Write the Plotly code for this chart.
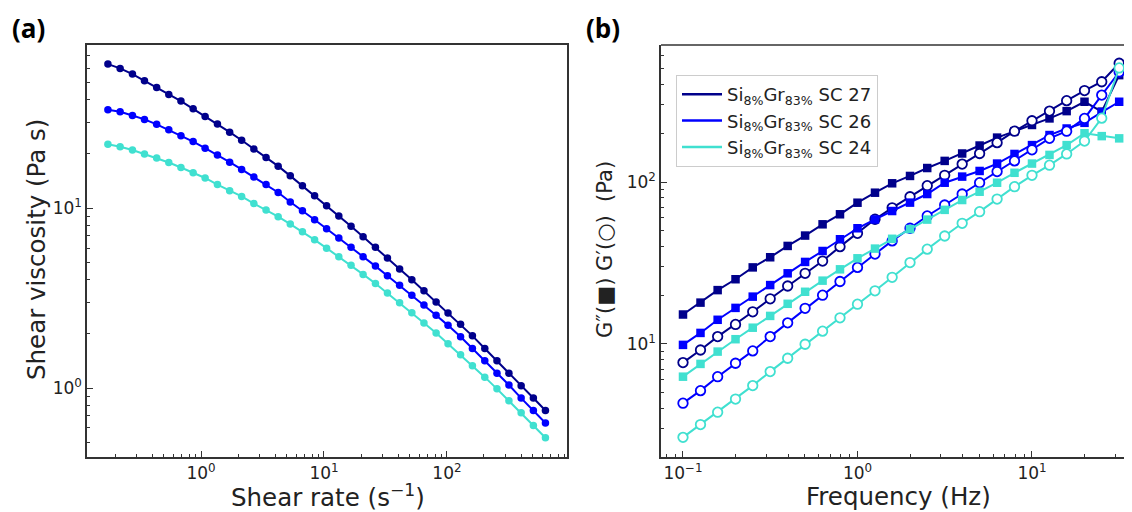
import plotly.graph_objects as go

# ---------------- data: panel (a) ----------------
shear_rate = [0.175, 0.220, 0.277, 0.347, 0.436, 0.547, 0.687, 0.863, 1.08, 1.36,
              1.71, 2.14, 2.69, 3.38, 4.24, 5.32, 6.68, 8.39, 10.5, 13.2,
              16.6, 20.8, 26.2, 32.8, 41.2, 51.8, 65.0, 81.6, 102, 129,
              161, 203, 255, 319, 401, 504, 632]
visc_sc27 = [63.1, 59.7, 55.5, 50.9, 46.8, 42.8, 39.3, 35.6, 32.3, 29.3,
             26.4, 23.8, 21.3, 19.1, 17.1, 15.1, 13.3, 11.7, 10.3, 9.04,
             7.92, 6.93, 6.05, 5.28, 4.59, 4.00, 3.47, 3.01, 2.61, 2.26,
             1.95, 1.66, 1.42, 1.21, 1.03, 0.88, 0.75]
visc_sc26 = [35.2, 34.3, 32.7, 31.1, 29.2, 27.2, 25.2, 23.4, 21.5, 19.7,
             18.0, 16.4, 14.9, 13.5, 12.2, 10.8, 9.67, 8.62, 7.67, 6.82,
             6.06, 5.37, 4.76, 4.21, 3.72, 3.28, 2.89, 2.54, 2.23, 1.93,
             1.66, 1.42, 1.21, 1.04, 0.88, 0.75, 0.64]
visc_sc24 = [22.6, 21.9, 21.0, 19.95, 18.95, 17.9, 16.8, 15.7, 14.7, 13.5,
             12.5, 11.6, 10.6, 9.75, 8.95, 8.15, 7.38, 6.66, 5.99, 5.37,
             4.81, 4.28, 3.81, 3.37, 2.98, 2.62, 2.30, 2.02, 1.76, 1.53,
             1.33, 1.15, 0.99, 0.85, 0.73, 0.62, 0.53]

# ---------------- data: panel (b) ----------------
frequency = [0.1, 0.126, 0.158, 0.2, 0.251, 0.316, 0.398, 0.501, 0.631, 0.794,
             1.0, 1.26, 1.58, 2.0, 2.51, 3.16, 3.98, 5.01, 6.31, 7.94,
             10.0, 12.6, 15.8, 20.0, 25.1, 31.6]
gpp_sc27 = [15.2, 18.0, 21.5, 25.1, 29.7, 34.3, 40.3, 46.7, 54.8, 63.2,
            74.5, 85.9, 98.2, 109, 122, 135, 150, 168, 188, 206,
            225, 247, 274, 313, 272, 457]
gp_sc27 = [7.67, 9.18, 11.1, 13.2, 15.8, 19.0, 22.8, 27.3, 32.5, 39.9,
           48.2, 58.9, 69.3, 81.1, 94.9, 110, 129, 150, 175, 206,
           239, 274, 318, 367, 416, 541]
gpp_sc26 = [9.87, 11.7, 14.1, 16.7, 19.6, 23.1, 27.3, 32.1, 37.5, 44.3,
            51.8, 58.7, 66.2, 74.6, 84.3, 99.0, 108, 117, 130, 149,
            169, 195, 214, 232, 270, 313]
gp_sc26 = [4.31, 5.15, 6.28, 7.60, 9.06, 11.1, 13.5, 16.6, 20.0, 24.3,
           29.7, 35.9, 43.3, 51.8, 61.7, 72.1, 84.3, 99, 116, 135,
           158, 186, 206, 247, 344, 478]
gpp_sc24 = [6.28, 7.53, 8.97, 10.7, 12.6, 14.9, 17.7, 21.0, 24.6, 28.9,
            33.8, 38.8, 44.6, 51.2, 58.6, 67.3, 77.4, 87.1, 99.0, 114,
            130, 147, 169, 200, 192, 186]
gp_sc24 = [2.65, 3.18, 3.79, 4.57, 5.53, 6.75, 8.16, 9.96, 12.0, 14.5,
           17.6, 21.3, 25.8, 31.8, 38.5, 46.4, 55.6, 65.6, 78.5, 93.6,
           110, 127, 149, 179, 248, 506]

series_names = ["Si<sub>8%</sub>Gr<sub>83%</sub> SC 27",
                "Si<sub>8%</sub>Gr<sub>83%</sub> SC 26",
                "Si<sub>8%</sub>Gr<sub>83%</sub> SC 24"]
colors = ["#00008B", "#0000FF", "#40E0D0"]

W, H = 1132, 512
OFF = 8  # default page body margin in the written html
def px_x(p): return (p - OFF) / W
def px_y(p): return 1 - (p - OFF) / H

fig = go.Figure()

# panel (a)
for vals, c in zip([visc_sc27, visc_sc26, visc_sc24], colors):
    fig.add_trace(go.Scatter(x=shear_rate, y=vals, mode="lines+markers",
                             line=dict(color=c, width=2),
                             marker=dict(color=c, size=7.5, symbol="circle"),
                             showlegend=False, xaxis="x", yaxis="y"))

# panel (b)
for gpp, gp, c in zip([gpp_sc27, gpp_sc26, gpp_sc24], [gp_sc27, gp_sc26, gp_sc24], colors):
    fig.add_trace(go.Scatter(x=frequency, y=gpp, mode="lines+markers",
                             line=dict(color=c, width=2),
                             marker=dict(color=c, size=8.5, symbol="square"),
                             showlegend=False, xaxis="x2", yaxis="y2"))
    fig.add_trace(go.Scatter(x=frequency, y=gp, mode="lines+markers",
                             line=dict(color=c, width=2),
                             marker=dict(color="white", size=9.5, symbol="circle",
                                         line=dict(color=c, width=1.8)),
                             showlegend=False, xaxis="x2", yaxis="y2"))

# legend entries (lines only)
for name, c in zip(series_names, colors):
    fig.add_trace(go.Scatter(x=[None], y=[None], mode="lines", name=name,
                             line=dict(color=c, width=2.5), showlegend=True,
                             xaxis="x2", yaxis="y2"))

axcol = "#333333"
tickfont = dict(family="DejaVu Sans", size=17, color="#222222")

def minor_vals(lo, hi):
    out = []
    for d in range(lo, hi + 1):
        for m in range(2, 10):
            out.append(m * 10 ** d)
    return out

common = dict(type="log", showgrid=False, zeroline=False, showline=True,
              linecolor=axcol, linewidth=1.5, ticks="inside", ticklen=6,
              tickwidth=1.2, tickcolor=axcol, tickfont=tickfont)

fig.update_layout(
    width=W, height=H,
    margin=dict(l=0, r=0, t=0, b=0),
    paper_bgcolor="white", plot_bgcolor="white",
    xaxis=dict(domain=[px_x(87), px_x(567)], range=[-0.927, 2.976], anchor="y",
               mirror=True,
               tickmode="array", tickvals=[1, 10, 100],
               ticktext=["10<sup>0</sup>", "10<sup>1</sup>", "10<sup>2</sup>"],
               minor=dict(tickmode="array", tickvals=minor_vals(-1, 2), ticks="inside",
                          ticklen=3.5, tickwidth=1, tickcolor=axcol),
               **common),
    yaxis=dict(domain=[px_y(457), px_y(45)], range=[-0.383, 1.906], anchor="x",
               mirror=True,
               tickmode="array", tickvals=[1, 10],
               ticktext=["10<sup>0</sup>", "10<sup>1</sup>"],
               minor=dict(tickmode="array", tickvals=minor_vals(-1, 1), ticks="inside",
                          ticklen=3.5, tickwidth=1, tickcolor=axcol),
               **common),
    xaxis2=dict(domain=[px_x(661), 1.0], range=[-1.126, 1.619], anchor="y2",
                tickmode="array", tickvals=[0.1, 1, 10],
                ticktext=["10<sup>\u22121</sup>", "10<sup>0</sup>", "10<sup>1</sup>"],
                minor=dict(tickmode="array", tickvals=minor_vals(-2, 1), ticks="inside",
                           ticklen=3.5, tickwidth=1, tickcolor=axcol),
                **common),
    yaxis2=dict(domain=[px_y(457), px_y(45)], range=[0.302, 2.846], anchor="x2",
                tickmode="array", tickvals=[10, 100],
                ticktext=["10<sup>1</sup>", "10<sup>2</sup>"],
                minor=dict(tickmode="array", tickvals=minor_vals(0, 2), ticks="inside",
                           ticklen=3.5, tickwidth=1, tickcolor=axcol),
                **common),
    legend=dict(x=px_x(676), y=px_y(75), xanchor="left", yanchor="top",
                bgcolor="white", bordercolor="#cccccc", borderwidth=1,
                font=dict(family="DejaVu Sans", size=18, color="#222222"),
                itemwidth=40, tracegroupgap=0),
    shapes=[dict(type="line", xref="x2 domain", yref="y2 domain", x0=0, x1=1, y0=1, y1=1,
                 line=dict(color=axcol, width=1.5))],
)

title_font = dict(family="DejaVu Sans", size=24.5, color="#222222")
label_font = dict(family="Open Sans", size=26, color="black")
ann = [
    dict(text="<b>(a)</b>", x=px_x(10), y=1.0, xanchor="left", yanchor="top",
         font=label_font),
    dict(text="<b>(b)</b>", x=px_x(584), y=1.0, xanchor="left", yanchor="top",
         font=label_font),
    dict(text="Shear viscosity (Pa s)", x=px_x(36), y=px_y(250), textangle=-90,
         xanchor="center", yanchor="middle", font=title_font),
    dict(text="Shear rate (s<sup>\u22121</sup>)", x=px_x(328), y=px_y(496),
         xanchor="center", yanchor="middle", font=title_font),
    dict(text="G\u2033(\u25a0) G\u2032(\u25cb)  (Pa)", x=px_x(605), y=px_y(250), textangle=-90,
         xanchor="center", yanchor="middle",
         font=dict(family="DejaVu Sans", size=21, color="#222222")),
    dict(text="Frequency (Hz)", x=px_x(898), y=px_y(496),
         xanchor="center", yanchor="middle", font=title_font),
]
for a in ann:
    a.update(xref="paper", yref="paper", showarrow=False)
fig.update_layout(annotations=ann)

fig.write_html("out.html")
